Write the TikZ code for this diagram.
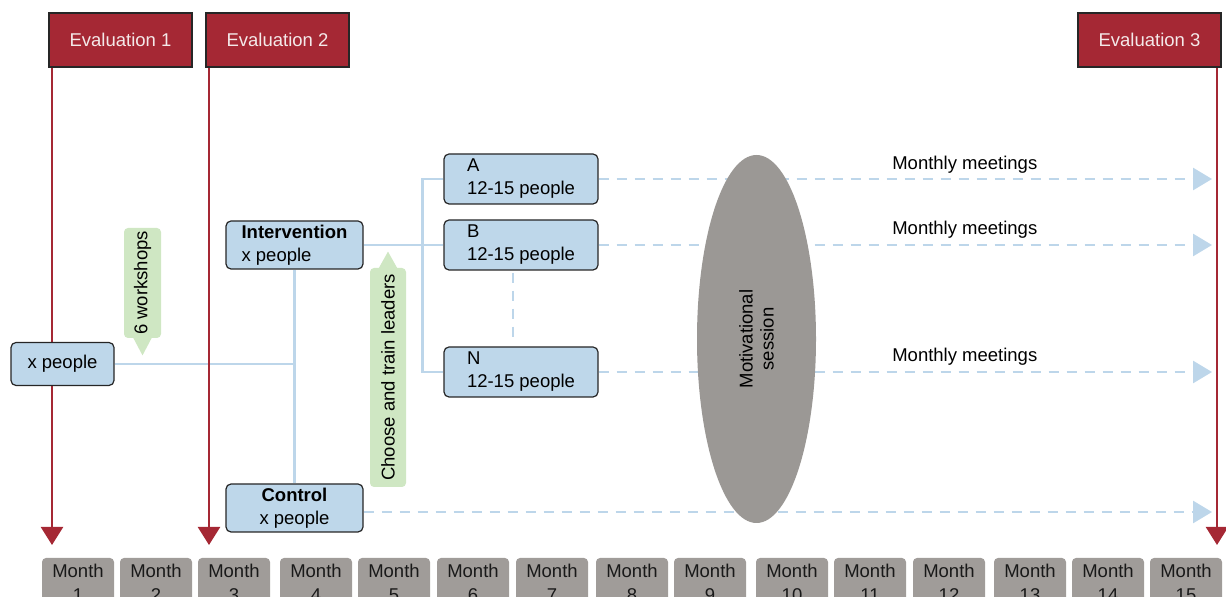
\documentclass[tikz,border=0pt]{standalone}
\usepackage{fontspec}
\setmainfont{Liberation Sans}
\usetikzlibrary{arrows.meta,shapes.geometric,calc}
\definecolor{evred}{HTML}{A52834}
\definecolor{evtext}{HTML}{F4E9E9}
\definecolor{bxblue}{HTML}{BED7EA}
\definecolor{lnblue}{HTML}{BDD6EA}
\definecolor{cgreen}{HTML}{CFE7C3}
\definecolor{ellgray}{HTML}{9B9895}
\definecolor{mgray}{HTML}{A09C99}
\newcommand\fsz{\fontsize{9.25pt}{11.5pt}\selectfont}
\pgfdeclarelayer{bglayer}
\pgfdeclarelayer{midlayer}
\pgfsetlayers{bglayer,midlayer,main}
\begin{document}
\begin{tikzpicture}[x=0.5pt,y=-0.5pt,
  evalbox/.style={draw=black!85, line width=0.6pt, fill=evred, text=evtext, minimum width=71.5pt, minimum height=27pt, inner sep=0pt, font=\fsz},
  grpbox/.style={draw=black!85, line width=0.6pt, fill=bxblue, rounded corners=2.5pt, inner sep=0pt, font=\fsz, text=black},
  monthbox/.style={fill=mgray, rounded corners=2pt, minimum width=36pt, minimum height=25pt, inner sep=0pt, align=center, text=black!90, font=\fontsize{9.25pt}{12pt}\selectfont},
  conn/.style={lnblue, line width=1.4pt},
  dconn/.style={lnblue, line width=1.4pt, dash pattern=on 5pt off 4pt},
  darrow/.style={dconn, -{Triangle[length=9.5pt,width=11pt]}},
  redline/.style={evred, line width=1.2pt, -{Triangle[length=9pt,width=11pt]}},
  callout/.style={fill=cgreen, rounded corners=2pt, inner sep=0pt, rotate=90, font=\fsz, text=black},
  mlabel/.style={font=\fsz, inner sep=0pt, text=black}
]
\useasboundingbox (0,0) rectangle (1226,597);

% motivational session ellipse
\node[ellipse, fill=ellgray, minimum width=184pt, minimum height=59.5pt, rotate=90, inner sep=0pt, align=center, text=black, font=\fontsize{9.25pt}{10.5pt}\selectfont] (mot) at (756.5,339) {Motivational\\session};

% evaluation boxes
\node[evalbox] (ev1) at (120.5,40) {Evaluation 1};
\node[evalbox] (ev2) at (277.5,40) {Evaluation 2};
\node[evalbox] (ev3) at (1149.5,40) {Evaluation 3};

% group boxes
\node[grpbox, minimum width=51.5pt, minimum height=21.5pt] (xp) at (62.5,364) {x people};
\node[grpbox, minimum width=68.5pt, minimum height=24pt, align=left] (int) at (294.5,245) {\textbf{Intervention}\\x people};
\node[grpbox, minimum width=68.5pt, minimum height=24pt, align=center] (ctrl) at (294.5,508) {\textbf{Control}\\x people};
\node[grpbox, minimum width=77pt, minimum height=25pt, align=left] (A) at (521,179) {A\\12-15 people};
\node[grpbox, minimum width=77pt, minimum height=25pt, align=left] (B) at (521,245) {B\\12-15 people};
\node[grpbox, minimum width=77pt, minimum height=25pt, align=left] (N) at (521,372) {N\\12-15 people};

% callouts
\node[callout, minimum width=55pt, minimum height=18.5pt] (cw) at (142.5,283) {6 workshops};
\fill[cgreen] ([xshift=-4.75pt,yshift=0.5pt]cw.west) -- ([yshift=-8.5pt]cw.west) -- ([xshift=4.75pt,yshift=0.5pt]cw.west) -- cycle;
\node[callout, minimum width=109.5pt, minimum height=18pt] (cb) at (388,377.5) {Choose and train leaders};
\fill[cgreen] ([xshift=-4.75pt,yshift=-0.5pt]cb.east) -- ([yshift=8pt]cb.east) -- ([xshift=4.75pt,yshift=-0.5pt]cb.east) -- cycle;

% months
\foreach \i/\l in {1/42,2/120,3/198,4/280,5/358,6/437,7/516,8/596,9/674,10/756,11/834,12/913,13/994,14/1072,15/1150}
  \node[monthbox] (m\i) at (\l+36,583) {Month\\\i};

% end coordinates
\coordinate (Aend) at (1212,179);
\coordinate (Bend) at (1212,245);
\coordinate (Nend) at (1212,372);
\coordinate (Cend) at (1212,512);
\coordinate (r1) at (52,545);
\coordinate (r2) at (209,545);
\coordinate (r3) at (1217,545);

\begin{pgfonlayer}{bglayer}
\draw[conn] (xp.east) -- (xp.east -| int.south);
\draw[conn] (int.south) -- (ctrl.north);
\draw[conn] (int.east) -- (B.west);
\draw[conn] (A.west) -- ++(-21,0) |- (N.west);
\draw[dconn] ([xshift=-4pt,yshift=-1pt]B.south) -- ([xshift=-4pt,yshift=2pt]N.north);
\draw[darrow] (A.east) -- (Aend) node[mlabel, pos=0.597, yshift=7pt] {Monthly meetings};
\draw[darrow] (B.east) -- (Bend) node[mlabel, pos=0.597, yshift=7.75pt] {Monthly meetings};
\draw[darrow] (N.east) -- (Nend) node[mlabel, pos=0.597, yshift=7.75pt] {Monthly meetings};
\draw[darrow] ([yshift=-2pt]ctrl.east) -- (Cend);
\end{pgfonlayer}

\begin{pgfonlayer}{midlayer}
\draw[redline] (ev1.south -| r1) -- (r1);
\draw[redline] (ev2.south -| r2) -- (r2);
\draw[redline] (ev3.south -| r3) -- (r3);
\end{pgfonlayer}
\end{tikzpicture}
\end{document}
